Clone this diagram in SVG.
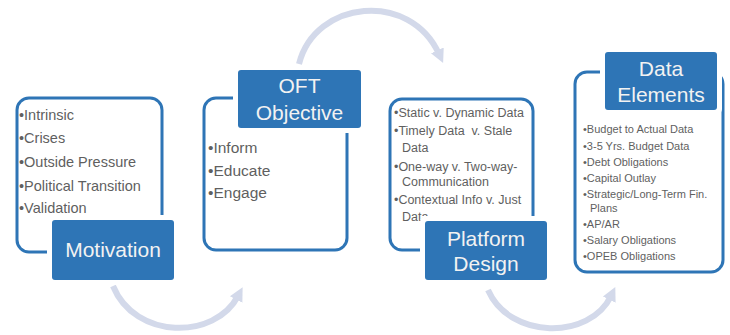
<svg xmlns="http://www.w3.org/2000/svg" width="730" height="335" viewBox="0 0 730 335">
<defs>
<style>
.frame{fill:#ffffff;stroke:#2e75b6;stroke-width:3}
.gap{fill:#ffffff}
.box{fill:#2e75b6}
.title{font-family:"Liberation Sans",Arial,sans-serif;font-size:21px;fill:#f2f2f2;text-anchor:middle}
.item{font-family:"Liberation Sans",Arial,sans-serif;fill:#5f5f5f}
.arc{fill:none;stroke:#d3d9ea;stroke-width:6;marker-end:url(#head)}
</style>
<marker id="head" markerUnits="userSpaceOnUse" markerWidth="16" markerHeight="16" refX="4" refY="8" orient="auto" viewBox="0 0 16 16">
<path d="M0,1 L14,8 L0,15 Z" fill="#d3d9ea"/>
</marker>
</defs>
<rect width="730" height="335" fill="#ffffff"/>
<g id="connectors">
<path class="arc" d="M113,286 C135,340 215,340 238,296"/>
<path class="arc" d="M299,64 C315,0 410,-10 439,54"/>
<path class="arc" d="M488,290 C510,340 590,340 611,296"/>
</g>
<g id="motivation">
<rect class="frame" x="17" y="98" width="145" height="154" rx="12"/>
<g class="item" font-size="14.5">
<text x="19" y="120">•Intrinsic</text>
<text x="19" y="143">•Crises</text>
<text x="19" y="167">•Outside Pressure</text>
<text x="19" y="191">•Political Transition</text>
<text x="19" y="213">•Validation</text>
</g>
<rect class="gap" x="47" y="215" width="132" height="70" rx="6"/>
<rect class="box" x="52" y="220" width="122" height="60" rx="3"/>
<text class="title" x="113" y="257">Motivation</text>
</g>
<g id="oft-objective">
<rect class="frame" x="204" y="98" width="143" height="152" rx="12"/>
<rect class="gap" x="233" y="65" width="133" height="68" rx="6"/>
<rect class="box" x="238" y="70" width="123" height="58" rx="3"/>
<text class="title" x="299.5" y="93">OFT</text>
<text class="title" x="299.5" y="120">Objective</text>
<g class="item" font-size="15.5">
<text x="208" y="153">•Inform</text>
<text x="208" y="176">•Educate</text>
<text x="208" y="198">•Engage</text>
</g>
</g>
<g id="platform-design">
<rect class="frame" x="390" y="99" width="143" height="151" rx="12"/>
<g class="item" font-size="12.5">
<text x="394" y="117">•Static v. Dynamic Data</text>
<text x="394" y="135" xml:space="preserve">•Timely Data  v. Stale</text>
<text x="402" y="152">Data</text>
<text x="394" y="171">•One-way v. Two-way-</text>
<text x="402" y="186">Communication</text>
<text x="394" y="204">•Contextual Info v. Just</text>
<text x="402" y="221">Data</text>
</g>
<rect class="gap" x="420" y="216" width="132" height="69" rx="6"/>
<rect class="box" x="425" y="221" width="122" height="59" rx="3"/>
<text class="title" x="486" y="246">Platform</text>
<text class="title" x="486" y="271">Design</text>
</g>
<g id="data-elements">
<rect class="frame" x="575" y="72" width="148" height="200" rx="12"/>
<rect class="gap" x="600" y="47" width="122" height="68" rx="6"/>
<rect class="box" x="605" y="52" width="112" height="58" rx="3"/>
<text class="title" x="661" y="76">Data</text>
<text class="title" x="661" y="102">Elements</text>
<g class="item" font-size="11">
<text x="583" y="133">•Budget to Actual Data</text>
<text x="583" y="150">•3-5 Yrs. Budget Data</text>
<text x="583" y="166">•Debt Obligations</text>
<text x="583" y="182">•Capital Outlay</text>
<text x="583" y="198">•Strategic/Long-Term Fin.</text>
<text x="590" y="212">Plans</text>
<text x="583" y="228">•AP/AR</text>
<text x="583" y="244">•Salary Obligations</text>
<text x="583" y="260">•OPEB Obligations</text>
</g>
</g>
</svg>
